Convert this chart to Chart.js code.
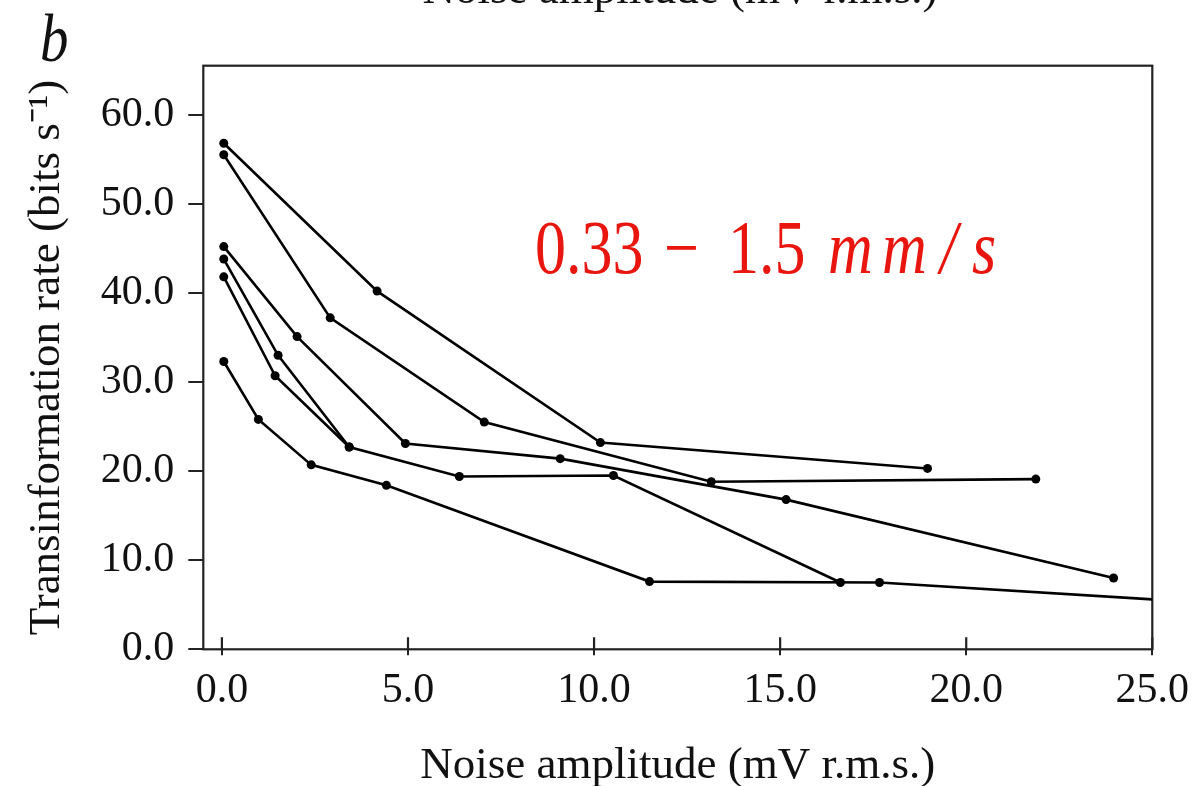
<!DOCTYPE html>
<html>
<head>
<meta charset="utf-8">
<title>Transinformation rate vs noise amplitude</title>
<script src="https://cdn.jsdelivr.net/npm/chart.js@4.4.1/dist/chart.umd.min.js"></script>
<style>
  html, body { margin: 0; padding: 0; background: #fff; }
  canvas { display: block; }
</style>
</head>
<body>
<canvas id="rate" width="1200" height="786"></canvas>
<script>
// Noise amplitude (mV r.m.s.) and transinformation rate (bits/s), one pair per cell
const cell1Noise = [0.05, 4.17, 10.17, 18.96];
const cell1Rate  = [56.8, 40.2, 23.2, 20.3];
const cell2Noise = [0.05, 2.91, 7.05, 13.15, 21.87];
const cell2Rate  = [55.5, 37.2, 25.5, 18.8, 19.1];
const cell3Noise = [0.05, 2.02, 4.93, 9.09, 15.16, 23.96];
const cell3Rate  = [45.2, 35.1, 23.1, 21.4, 16.8, 8.0];
const cell4Noise = [0.05, 1.51, 3.42];
const cell4Rate  = [43.8, 33.0, 22.7];
const cell5Noise = [0.05, 1.43, 3.42, 6.38, 10.52, 16.62];
const cell5Rate  = [41.8, 30.7, 22.7, 19.4, 19.5, 7.5];
const cell6Noise = [0.05, 0.98, 2.40, 4.42, 11.49, 17.67, 25.0];
const cell6Rate  = [32.3, 25.8, 20.7, 18.4, 7.6, 7.5, 5.6];

const xTicks = [0, 5, 10, 15, 20, 25];
const yTicks = [0, 10, 20, 30, 40, 50, 60];

const X_MIN = -0.5, X_MAX = 25;
const Y_MIN = 0, Y_MAX = 65.5;

const SERIF = "'Liberation Serif', 'Times New Roman', serif";
const INK = '#000';

Chart.defaults.font.family = SERIF;
Chart.defaults.color = '#111';

function cellDataset(noise, rate) {
    return {
        data: noise.map((x, i) => ({ x: x, y: rate[i] })),
        borderColor: INK,
        backgroundColor: INK,
        borderWidth: 2.6,
        tension: 0,
        // the last cell runs off the right edge, no marker there
        pointRadius: ctx => (ctx.raw && ctx.raw.x >= X_MAX ? 0 : 4.5),
        pointHoverRadius: 4.5,
        pointBorderWidth: 0
    };
}

// text drawn with a slight vertical stretch, like the printed figure
function stretchedText(ctx, text, x, y, font, color, sy) {
    ctx.save();
    ctx.translate(x, y);
    ctx.scale(1, sy);
    ctx.font = font;
    ctx.fillStyle = color;
    ctx.textBaseline = 'alphabetic';
    ctx.fillText(text, 0, 0);
    ctx.restore();
}

const decorations = {
    id: 'decorations',
    beforeDatasetsDraw(chart) {
        const { ctx, chartArea: a, scales } = chart;
        ctx.save();
        ctx.strokeStyle = '#222';
        ctx.lineWidth = 2.2;
        ctx.strokeRect(a.left, a.top, a.right - a.left, a.bottom - a.top);
        // inner half of the x tick marks
        ctx.beginPath();
        xTicks.forEach(v => {
            const px = scales.x.getPixelForValue(v);
            ctx.moveTo(px, a.bottom);
            ctx.lineTo(px, a.bottom - 12);
        });
        ctx.stroke();
        ctx.restore();
    },
    afterDraw(chart) {
        const ctx = chart.ctx;

        // panel letter
        stretchedText(ctx, 'b', 40, 61, `italic 57px ${SERIF}`, '#111', 1.2);

        // bottom of the axis title from the panel above
        ctx.save();
        ctx.font = `45px ${SERIF}`;
        ctx.fillStyle = '#111';
        ctx.textAlign = 'center';
        ctx.textBaseline = 'alphabetic';
        ctx.fillText('Noise amplitude (mV r.m.s.)', 680, 3);
        ctx.restore();

        // stimulus velocity range
        const red = '#e8160e';
        const up = `62px ${SERIF}`;
        const it = `italic 62px ${SERIF}`;
        stretchedText(ctx, '0.33', 535, 273, up, red, 1.22);
        stretchedText(ctx, '\u2212', 664, 273, up, red, 1.22);
        stretchedText(ctx, '1.5', 728, 273, up, red, 1.22);
        stretchedText(ctx, 'm', 828, 273, it, red, 1.22);
        stretchedText(ctx, 'm', 882, 273, it, red, 1.22);
        stretchedText(ctx, '/', 940, 273, it, red, 1.22);
        stretchedText(ctx, 's', 972, 273, it, red, 1.22);
    }
};

new Chart(document.getElementById('rate'), {
    type: 'line',
    data: {
        datasets: [
            cellDataset(cell1Noise, cell1Rate),
            cellDataset(cell2Noise, cell2Rate),
            cellDataset(cell3Noise, cell3Rate),
            cellDataset(cell4Noise, cell4Rate),
            cellDataset(cell5Noise, cell5Rate),
            cellDataset(cell6Noise, cell6Rate)
        ]
    },
    options: {
        responsive: false,
        animation: false,
        devicePixelRatio: 1,
        layout: { padding: { top: 65.7, right: 47.7, left: 0, bottom: 0 } },
        plugins: {
            legend: { display: false },
            tooltip: { enabled: false }
        },
        scales: {
            x: {
                type: 'linear',
                min: X_MIN,
                max: X_MAX,
                afterBuildTicks: s => { s.ticks = xTicks.map(v => ({ value: v })); },
                afterFit: s => { s.height = 786 - 649.3; },
                ticks: {
                    font: { size: 42 },
                    padding: 10,
                    autoSkip: false,
                    maxRotation: 0,
                    callback: v => v.toFixed(1)
                },
                grid: { drawOnChartArea: false, drawTicks: true, tickLength: 6, color: '#222', lineWidth: 2 },
                border: { display: false },
                title: {
                    display: true,
                    text: 'Noise amplitude (mV r.m.s.)',
                    font: { size: 45, lineHeight: 0.86 },
                    padding: 0
                }
            },
            y: {
                type: 'linear',
                min: Y_MIN,
                max: Y_MAX,
                afterBuildTicks: s => { s.ticks = yTicks.map(v => ({ value: v })); },
                afterFit: s => { s.width = 203.3; },
                ticks: {
                    font: { size: 42 },
                    padding: 14,
                    autoSkip: false,
                    callback: v => v.toFixed(1)
                },
                grid: { drawOnChartArea: false, drawTicks: true, tickLength: 15, color: '#222', lineWidth: 2 },
                border: { display: false },
                title: {
                    display: true,
                    text: 'Transinformation rate (bits s\u207B\u00B9)',
                    font: { size: 45 },
                    padding: { top: 20, bottom: 0 }
                }
            }
        }
    },
    plugins: [decorations]
});
</script>
</body>
</html>
